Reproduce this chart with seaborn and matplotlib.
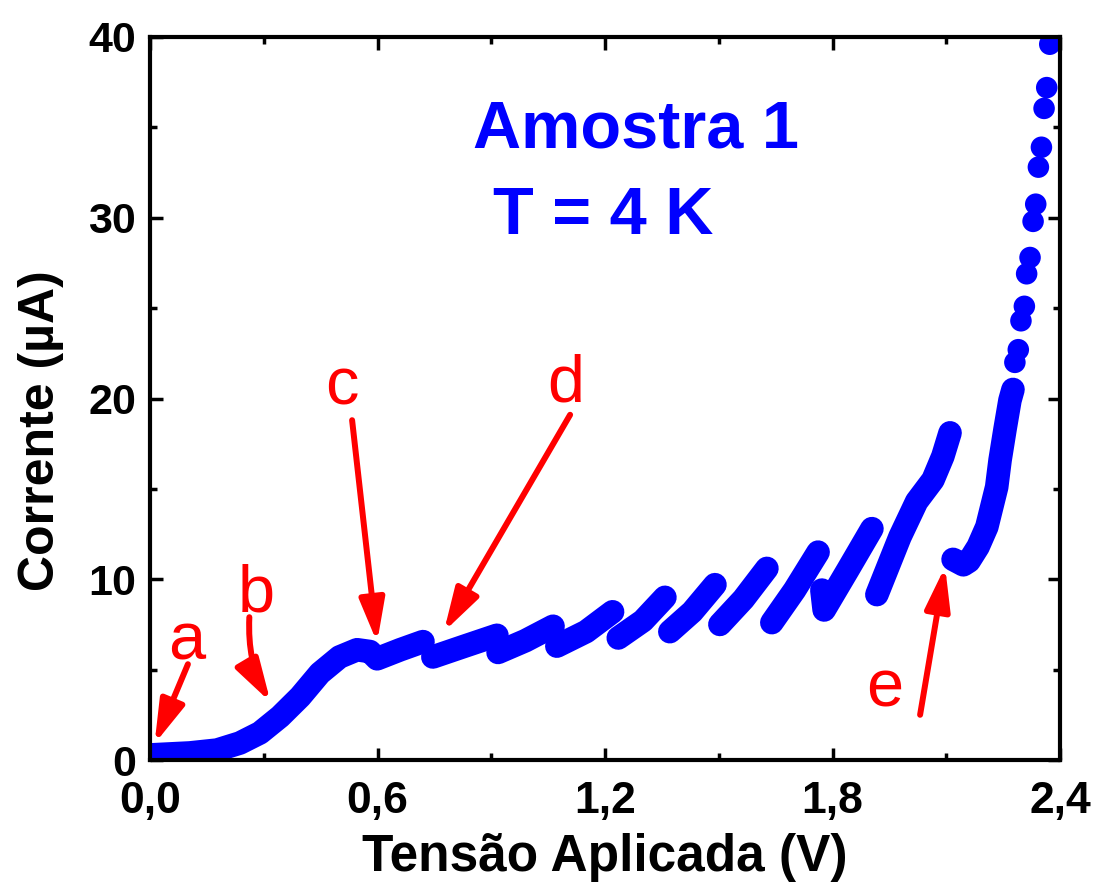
import matplotlib
matplotlib.use("Agg")
import matplotlib.pyplot as plt
from matplotlib.ticker import MultipleLocator, FixedLocator
import seaborn as sns
import pandas as pd

# ---------------- data ----------------
seg_smooth_V = [0.0, 0.105, 0.177, 0.237, 0.29, 0.343, 0.396, 0.448, 0.50, 0.546, 0.58, 0.599, 0.66, 0.72]
seg_smooth_I = [0.28, 0.39, 0.55, 0.94, 1.5, 2.4, 3.5, 4.8, 5.7, 6.1, 6.0, 5.6, 6.1, 6.55]
seg1_V = [0.746, 0.83, 0.915]
seg1_I = [5.7, 6.3, 6.9]
seg2_V = [0.918, 0.99, 1.063]
seg2_I = [5.95, 6.6, 7.4]
seg3_V = [1.073, 1.15, 1.22]
seg3_I = [6.3, 7.1, 8.2]
seg4_V = [1.235, 1.30, 1.358]
seg4_I = [6.75, 7.7, 9.0]
seg5_V = [1.371, 1.43, 1.49]
seg5_I = [7.1, 8.2, 9.7]
seg6_V = [1.503, 1.565, 1.627]
seg6_I = [7.5, 8.9, 10.6]
seg7_V = [1.64, 1.70, 1.762]
seg7_I = [7.6, 9.4, 11.5]
seg8_V = [1.772, 1.778, 1.84, 1.904]
seg8_I = [9.4, 8.3, 10.5, 12.8]
seg9_V = [1.917, 1.978, 2.022, 2.065, 2.091, 2.11]
seg9_I = [9.15, 12.35, 14.3, 15.5, 16.8, 18.1]
seg10_V = [2.118, 2.145, 2.16, 2.184, 2.207, 2.22, 2.233, 2.242, 2.255, 2.268, 2.276]
seg10_I = [11.1, 10.8, 11.0, 11.8, 12.9, 14.0, 15.1, 16.6, 18.3, 19.9, 20.5]

tail_V = [2.275, 2.281, 2.290, 2.297, 2.306, 2.312, 2.321, 2.329, 2.336, 2.343, 2.351, 2.358, 2.365, 2.373]
tail_I = [20.5, 22.0, 22.7, 24.3, 25.1, 26.9, 27.8, 29.8, 30.75, 32.8, 33.9, 36.05, 37.2, 39.6]

x_ticks = [0.0, 0.6, 1.2, 1.8, 2.4]
x_tick_labels = ["0,0", "0,6", "1,2", "1,8", "2,4"]
y_ticks = [0, 10, 20, 30, 40]
y_tick_labels = ["0", "10", "20", "30", "40"]

label_text = ["a", "b", "c", "d", "e"]
label_V = [0.098, 0.280, 0.506, 1.097, 1.938]
label_I = [5.54, 8.2, 19.67, 19.83, 2.94]
arrow_tail_V = [0.100, 0.262, 0.533, 1.108, 2.031]
arrow_tail_I = [5.3, 7.9, 18.8, 19.1, 2.5]
arrow_tip_V = [0.012, 0.318, 0.599, 0.775, 2.097]
arrow_tip_I = [0.9, 3.2, 6.5, 7.1, 10.7]
arrow_rad = [0.0, 0.15, 0.0, 0.0, 0.0]

# ---------------- build tables ----------------
segments = [
    (seg_smooth_V, seg_smooth_I), (seg1_V, seg1_I), (seg2_V, seg2_I), (seg3_V, seg3_I),
    (seg4_V, seg4_I), (seg5_V, seg5_I), (seg6_V, seg6_I), (seg7_V, seg7_I),
    (seg8_V, seg8_I), (seg9_V, seg9_I), (seg10_V, seg10_I),
]
rows = []
for k, (vv, ii) in enumerate(segments):
    for v, i in zip(vv, ii):
        rows.append({"V": v, "I": i, "seg": k})
dense = pd.DataFrame(rows)
tail = pd.DataFrame({"V": tail_V, "I": tail_I})

# ---------------- fonts ----------------
sns.set_theme(style="white")
plt.rcParams["font.family"] = ["Liberation Sans", "DejaVu Sans"]
plt.rcParams["text.color"] = "black"
plt.rcParams["xtick.color"] = "black"
plt.rcParams["ytick.color"] = "black"
plt.rcParams["axes.labelcolor"] = "black"

BLUE = "#0000ff"
RED = "#ff0000"

fig = plt.figure(figsize=(10.96, 8.89), dpi=100)
ax = fig.add_axes([150 / 1096, 1 - 760 / 889, 910 / 1096, 723 / 889])

lw_pt = 17
sns.lineplot(data=dense, x="V", y="I", units="seg", estimator=None, sort=False,
             color=BLUE, linewidth=lw_pt, solid_capstyle="round", solid_joinstyle="round",
             ax=ax, legend=False)
sns.scatterplot(data=tail, x="V", y="I", color=BLUE, s=15.5 ** 2, edgecolor="none",
                linewidth=0, ax=ax, legend=False)

ax.set_xlim(0, 2.4)
ax.set_ylim(0, 40)

ax.xaxis.set_major_locator(FixedLocator(x_ticks))
ax.set_xticklabels(x_tick_labels)
ax.yaxis.set_major_locator(FixedLocator(y_ticks))
ax.set_yticklabels(y_tick_labels)
ax.xaxis.set_minor_locator(MultipleLocator(0.3))
ax.yaxis.set_minor_locator(MultipleLocator(5))

for s in ax.spines.values():
    s.set_visible(True)
    s.set_linewidth(3)
    s.set_color("black")
ax.tick_params(which="both", direction="in", top=True, right=True, bottom=True, left=True,
               color="black", width=2.5, labelcolor="black")
ax.tick_params(which="major", length=9)
ax.tick_params(which="minor", length=5)
ax.tick_params(axis="x", which="major", pad=15)
ax.tick_params(axis="y", which="major", pad=10)

for t in ax.get_xticklabels():
    t.set_fontsize(32)
    t.set_fontweight("bold")
for t in ax.get_yticklabels():
    t.set_fontsize(31)
    t.set_fontweight("bold")

ax.set_xlabel("Tensão Aplicada (V)", fontsize=37, fontweight="bold", labelpad=8)
ax.set_ylabel("Corrente (µA)", fontsize=36, fontweight="bold")
ax.yaxis.set_label_coords(-0.095, 0.455)

ax.text(0.852, 33.9, "Amostra 1", color=BLUE, fontsize=48, fontweight="bold",
        ha="left", va="baseline")
ax.text(0.905, 29.1, "T = 4 K", color=BLUE, fontsize=48, fontweight="bold",
        ha="left", va="baseline")

for txt, lv, li in zip(label_text, label_V, label_I):
    ax.text(lv, li, txt, color=RED, fontsize=48, ha="center", va="baseline")

for tv, ti, hv, hi, rad in zip(arrow_tail_V, arrow_tail_I, arrow_tip_V, arrow_tip_I, arrow_rad):
    ax.annotate("", xy=(hv, hi), xytext=(tv, ti),
                arrowprops=dict(arrowstyle="-|>,head_length=1.3,head_width=0.38",
                                mutation_scale=20, lw=4.3, color=RED,
                                shrinkA=0, shrinkB=0, capstyle="round",
                                connectionstyle=f"arc3,rad={rad}"))

fig.savefig("out.png", dpi=100)
